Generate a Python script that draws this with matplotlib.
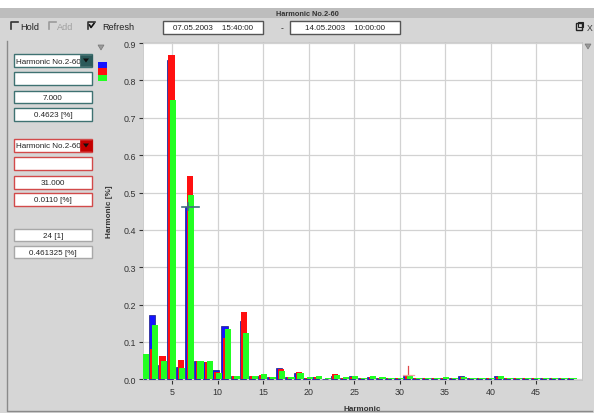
import numpy as np
import matplotlib
matplotlib.use('Agg')
import matplotlib.pyplot as plt
from matplotlib.patches import Rectangle, Polygon

plt.rcParams['font.family'] = ['Liberation Sans', 'DejaVu Sans']

# harmonic spectrum, three phases [%]
harmonics = np.arange(2, 50)
phase_blue = [0.060, 0.171, 0.038, 0.855, 0.033, 0.4623, 0.050, 0.045, 0.024, 0.143,
              0.010, 0.156, 0.010, 0.010, 0.005, 0.031, 0.005, 0.018, 0.004, 0.006,
              0.002, 0.010, 0.004, 0.008, 0.004, 0.006, 0.004, 0.004, 0.003, 0.008,
              0.003, 0.004, 0.004, 0.004, 0.003, 0.008, 0.003, 0.003, 0.004, 0.009,
              0.003, 0.003, 0.003, 0.004, 0.003, 0.004, 0.004, 0.004]
phase_red = [0.060, 0.080, 0.061, 0.868, 0.051, 0.543, 0.048, 0.047, 0.020, 0.110,
             0.008, 0.179, 0.008, 0.012, 0.005, 0.028, 0.005, 0.020, 0.004, 0.006,
             0.002, 0.013, 0.004, 0.007, 0.004, 0.006, 0.004, 0.004, 0.004, 0.011,
             0.003, 0.004, 0.004, 0.004, 0.003, 0.006, 0.003, 0.003, 0.004, 0.007,
             0.003, 0.003, 0.003, 0.004, 0.003, 0.004, 0.004, 0.003]
phase_green = [0.068, 0.145, 0.048, 0.747, 0.030, 0.494, 0.050, 0.050, 0.018, 0.135,
               0.009, 0.125, 0.008, 0.015, 0.006, 0.022, 0.006, 0.016, 0.005, 0.008,
               0.003, 0.012, 0.005, 0.008, 0.004, 0.009, 0.005, 0.004, 0.004, 0.008,
               0.004, 0.004, 0.004, 0.005, 0.003, 0.007, 0.004, 0.004, 0.004, 0.008,
               0.004, 0.004, 0.003, 0.004, 0.003, 0.004, 0.004, 0.004]

xticks = [5, 10, 15, 20, 25, 30, 35, 40, 45]
yticks = [0.0, 0.1, 0.2, 0.3, 0.4, 0.5, 0.6, 0.7, 0.8, 0.9]

cursor1_h, cursor1_val = 7, 0.4623
cursor2_h, cursor2_val = 31, 0.0110
cursor_count = '24 [1]'
cursor_diff = '0.461325 [%]'
date_from = '07.05.2003    15:40:00'
date_to = '14.05.2003    10:00:00'
title = 'Harmonic No.2-60'

W, H = 594, 414
fig = plt.figure(figsize=(W / 100, H / 100), dpi=100)
fig.patch.set_facecolor('#d6d6d6')

# pixel-space layer for the window controls
ui = fig.add_axes([0, 0, 1, 1])
ui.set_xlim(0, W)
ui.set_ylim(H, 0)
ui.axis('off')

FS = 6.2

def box(x0, y0, x1, y1, edge, text='', face='white', lw=1.0, ha='center'):
    ui.add_patch(Rectangle((x0, y0), x1 - x0, y1 - y0, facecolor=face,
                           edgecolor=edge, lw=lw, zorder=2))
    if text:
        tx = (x0 + x1) / 2 if ha == 'center' else x0 + 2
        ui.text(tx, (y0 + y1) / 2 + 0.5, text, fontsize=FS - 0.4, ha=ha,
                va='center', color='#222222', zorder=3)

def dropdown(x0, y0, x1, y1, col):
    ui.add_patch(Rectangle((x0, y0), x1 - x0, y1 - y0, facecolor=col,
                           edgecolor=col, lw=0.5, zorder=4))
    cx, cy = (x0 + x1) / 2, (y0 + y1) / 2
    ui.add_patch(Polygon([(cx - 3, cy - 2), (cx + 3, cy - 2), (cx, cy + 2)],
                         closed=True, facecolor='#111111', zorder=5))

def checkbox(x, y, checked=False, col='#333333'):
    ui.plot([x, x, x + 7], [y + 7, y, y], color=col, lw=1.2, zorder=3)
    if checked:
        ui.plot([x + 1.5, x + 3, x + 6], [y + 3, y + 5.5, y + 1.5],
                color='#111111', lw=1.2, zorder=3)

# title bar
ui.add_patch(Rectangle((0, 0), W, 9, facecolor='white', lw=0, zorder=1))
ui.add_patch(Rectangle((0, 9), W, 10, facecolor='#bdbdbd', lw=0, zorder=1))
ui.text(307, 14.5, title, fontsize=5.3, ha='center', va='center',
        color='#333333', fontweight='bold', zorder=3)

# toolbar
checkbox(11, 23)
ui.text(20, 27.5, 'Hold', fontsize=FS + 0.4, va='center', color='#222222')
checkbox(49, 23, col='#9a9a9a')
ui.text(57, 27.5, 'Add', fontsize=FS + 0.4, va='center', color='#a0a0a0')
checkbox(88, 23, checked=True)
ui.text(102, 27.5, 'Refresh', fontsize=FS + 0.4, va='center', color='#222222')
box(163, 22, 263, 35, '#555555', date_from)
ui.text(282, 28.5, '-', fontsize=FS, ha='center', va='center', color='#333333')
box(290, 22, 400, 35, '#555555', date_to)
ui.add_patch(Rectangle((576, 24), 6, 7, facecolor='none', edgecolor='#222222', lw=1, zorder=3))
ui.add_patch(Rectangle((578, 22.5), 5, 5, facecolor='none', edgecolor='#222222', lw=0.8, zorder=3))
ui.text(592.5, 28.5, 'X', fontsize=FS, ha='right', va='center', color='#333333')
ui.add_patch(Polygon([(98, 46), (104, 46), (101, 51)], closed=True,
                     facecolor='#9a9a9a', edgecolor='#777777', lw=0.5, zorder=3))
ui.add_patch(Polygon([(585, 45), (591, 45), (588, 50)], closed=True,
                     facecolor='#9a9a9a', edgecolor='#777777', lw=0.5, zorder=3))

# frame groove
ui.plot([7, 7, 592], [42, 412, 412], color='#8a8a8a', lw=1.0, zorder=1)

# cursor 1 panel (teal)
teal = '#3f7272'
box(14, 55, 92, 68, teal, title, ha='left')
dropdown(80, 56, 92, 67, '#2b5a5a')
box(14, 73, 92, 86, teal)
box(14, 92, 92, 104, teal, '%.3f' % cursor1_h)
box(14, 109, 92, 122, teal, '%.4f [%%]' % cursor1_val)

# cursor 2 panel (red)
redb = '#d24a4a'
box(14, 140, 92, 153, redb, title, ha='left')
dropdown(80, 141, 92, 152, '#c40000')
box(14, 158, 92, 171, redb)
box(14, 177, 92, 190, redb, '%.3f' % cursor2_h)
box(14, 194, 92, 207, redb, '%.4f [%%]' % cursor2_val)

# cursor difference
box(14, 230, 92, 242, '#a8a8a8', cursor_count)
box(14, 247, 92, 259, '#a8a8a8', cursor_diff)

# phase colour keys
ui.add_patch(Rectangle((98, 63), 9, 6, facecolor='#1414ff', lw=0, zorder=3))
ui.add_patch(Rectangle((98, 69), 9, 7, facecolor='#ff1010', lw=0, zorder=3))
ui.add_patch(Rectangle((98, 76), 9, 6, facecolor='#22ff22', lw=0, zorder=3))

# spectrum chart
ax = fig.add_axes([143 / W, 1 - 381 / H, (582 - 143) / W, (381 - 43) / H])
ax.set_facecolor('white')
bw = 0.68
ax.bar(harmonics - 0.24, phase_blue, width=bw, color='#1414ff',
       edgecolor='#1a1a80', lw=0.5, zorder=2)
ax.bar(harmonics - 0.06, phase_red, width=bw, color='#ff1010', lw=0, zorder=3)
ax.bar(harmonics + 0.12, phase_green, width=bw, color='#22ff22', lw=0, zorder=4)

# cursors
c1x = cursor1_h - 0.24
ax.plot([cursor1_h - 0.95, cursor1_h + 0.9], [cursor1_val, cursor1_val],
        color='#3f6f7f', lw=1.2, zorder=6)
ax.plot([c1x, c1x], [cursor1_val - 0.009, cursor1_val + 0.009],
        color='#3f6f7f', lw=1.2, zorder=6)
c2x = cursor2_h - 0.1
ax.plot([c2x, c2x], [cursor2_val, cursor2_val + 0.024], color='#e04848', lw=0.9, zorder=6)
ax.plot([cursor2_h - 0.6, cursor2_h + 0.6], [cursor2_val, cursor2_val],
        color='#f0a0a0', lw=0.9, zorder=6)

ax.set_xlim(1.8, 50.05)
ax.set_ylim(-0.002, 0.903)
ax.set_xticks(xticks)
ax.set_yticks(yticks)
ax.set_yticklabels(['%.1f' % v for v in yticks])
ax.grid(True, color='#d2d2d2', lw=0.9)
ax.set_axisbelow(True)
for s in ax.spines.values():
    s.set_color('#c4c4c4')
    s.set_linewidth(0.6)
ax.tick_params(length=3, width=0.8, color='#333333', labelsize=FS + 0.2,
               labelcolor='#333333', pad=2)
ax.set_xlabel('Harmonic', fontsize=FS - 0.3, fontweight='bold', color='#333333')
ax.set_ylabel('Harmonic [%]', fontsize=FS - 0.3, fontweight='bold', color='#333333')
ax.xaxis.set_label_coords(0.5, -0.074)
ax.yaxis.set_label_coords(-0.068, 0.5)

fig.savefig('out.png', dpi=100, facecolor=fig.get_facecolor())
